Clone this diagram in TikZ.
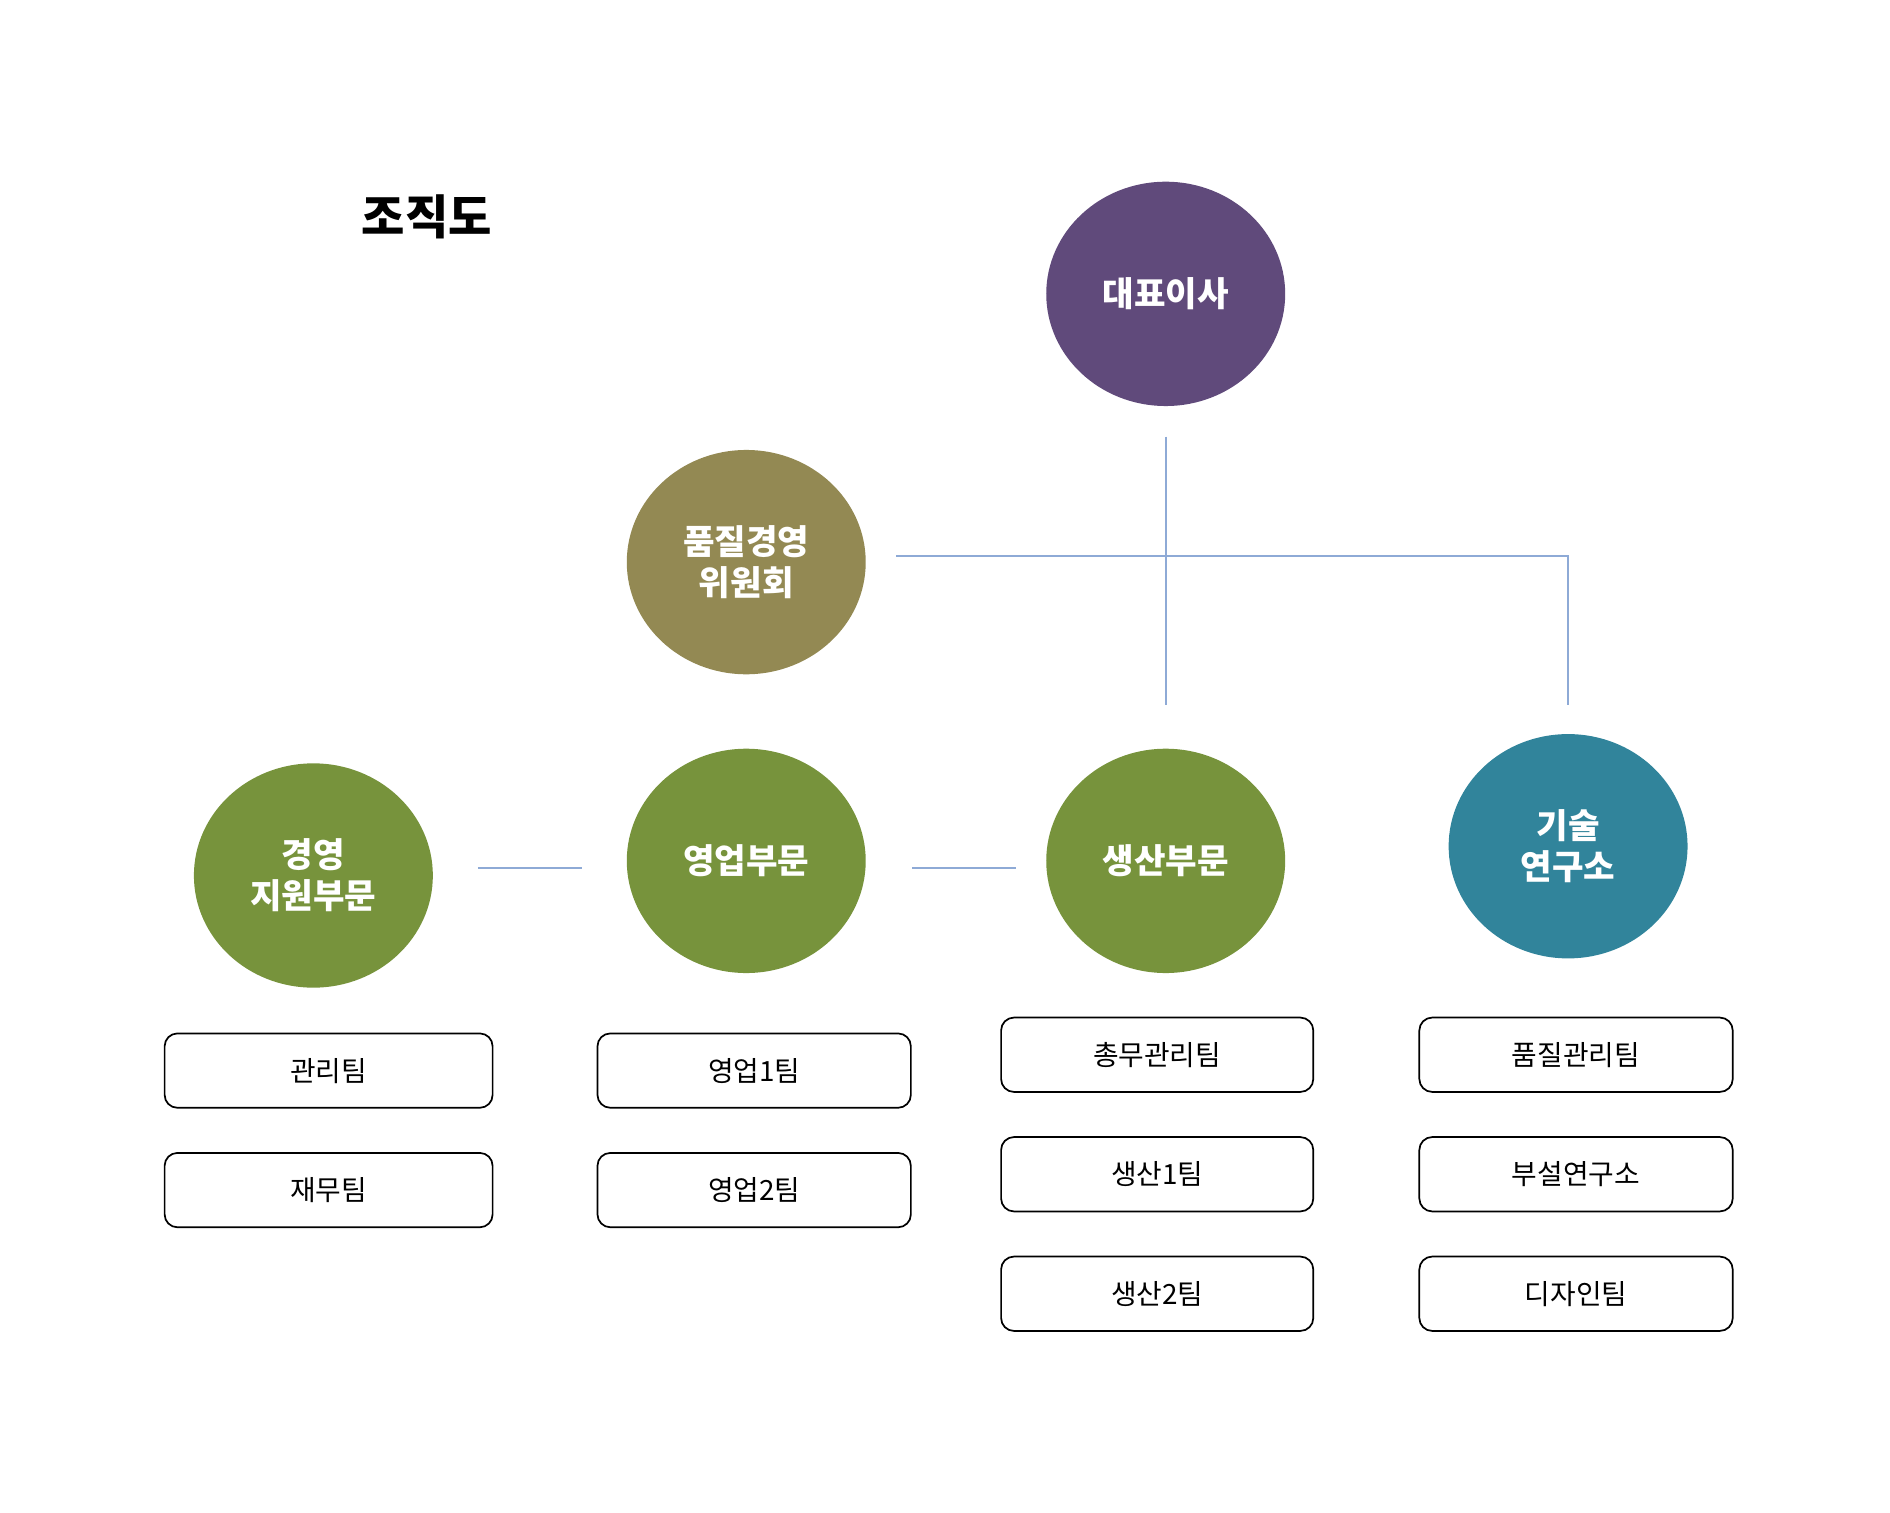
\documentclass[tikz,border=0pt]{standalone}
\usepackage{fontspec}
\setmainfont{Noto Sans CJK KR}
\usetikzlibrary{shapes.geometric}
\definecolor{ceo}{HTML}{604A7B}
\definecolor{qual}{HTML}{938953}
\definecolor{dept}{HTML}{77933C}
\definecolor{lab}{HTML}{31849B}
\definecolor{link}{HTML}{8EAAD6}
\tikzset{
  unit/.style={ellipse,minimum width=3.92cm,minimum height=3.68cm,text=white,
    font=\fontsize{16}{19}\selectfont\bfseries,align=center,inner sep=0pt},
  team/.style={draw=black,thick,rounded corners=6pt,fill=white,
    font=\fontsize{13}{15}\selectfont,inner sep=0pt},
  wire/.style={link,line width=0.8pt}
}
\begin{document}
\begin{tikzpicture}[x=0.02cm,y=-0.02cm]
        \useasboundingbox (0,0) rectangle (1550,1240);
        \node[font=\fontsize{22}{26}\selectfont\bfseries] (title) at (350,178) {조직도};
        % circles
        \node[unit,fill=ceo] (ceo) at (956,241) {대표이사};
        \node[unit,fill=qual] (qc) at (612,461) {품질경영\\위원회};
        \node[unit,fill=dept] (mgmt) at (257,718) {경영\\지원부문};
        \node[unit,fill=dept] (sales) at (612,706) {영업부문};
        \node[unit,fill=dept] (prod) at (956,706) {생산부문};
        \node[unit,fill=lab] (rnd) at (1286,694) {기술\\연구소};
        % connectors
        \coordinate (c1) at (956,358);
        \coordinate (c2) at (956,578);
        \coordinate (c3) at (735,456);
        \coordinate (c4) at (1286,456);
        \coordinate (c5) at (1286,578);
        \coordinate (m1) at (392,712);
        \coordinate (m2) at (477,712);
        \coordinate (s1) at (748,712);
        \coordinate (s2) at (833,712);
        \draw[wire] (c1) -- (c2);
        \draw[wire] (c3) -- (c4) -- (c5);
        \draw[wire] (m1) -- (m2);
        \draw[wire] (s1) -- (s2);
        % teams
        \foreach \x/\w/\y/\n/\t in {269.5/269/878/t11/관리팀, 269.5/269/976/t12/재무팀,
            618.5/257/878/t21/영업1팀, 618.5/257/976/t22/영업2팀,
            949/256/865/t31/총무관리팀, 949/256/963/t32/생산1팀, 949/256/1061/t33/생산2팀,
            1292.5/257/865/t41/품질관리팀, 1292.5/257/963/t42/부설연구소, 1292.5/257/1061/t43/디자인팀} {
            \node[team,minimum width=\w*0.02cm,minimum height=1.22cm] (\n) at (\x,\y) {\t};
          }
    \end{tikzpicture}
\end{document}
